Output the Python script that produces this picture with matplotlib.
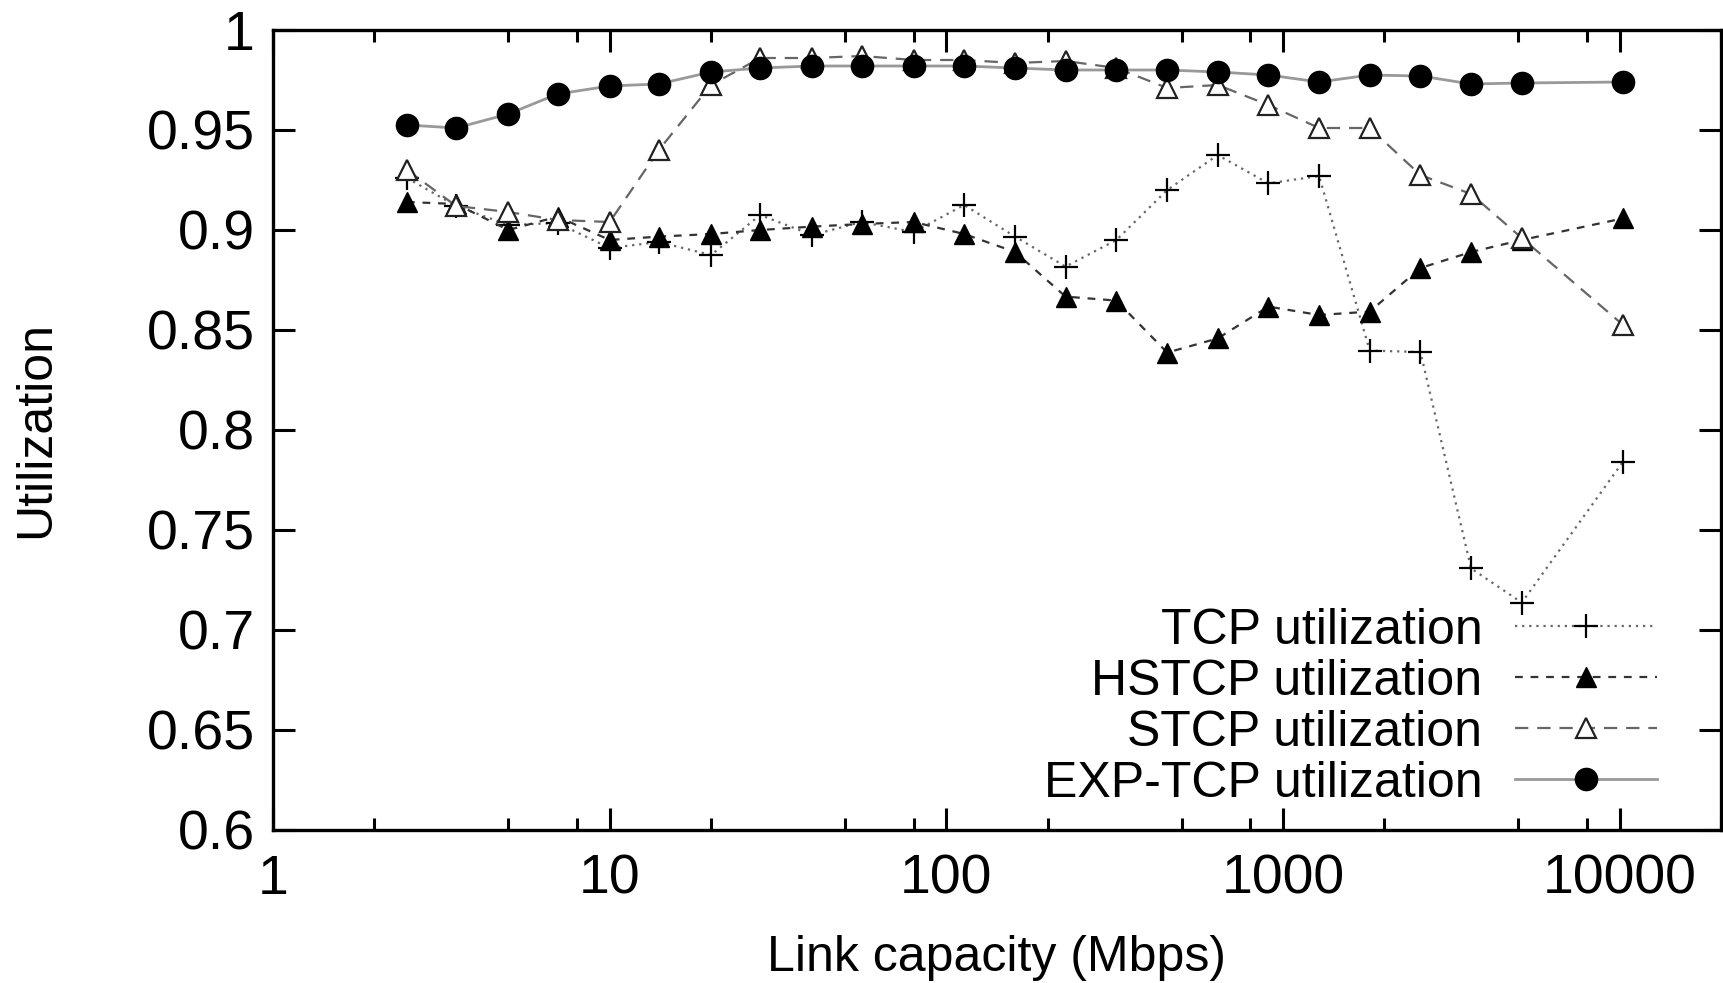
import matplotlib
matplotlib.use("Agg")
import matplotlib.pyplot as plt
from matplotlib.ticker import FixedLocator, FuncFormatter, NullFormatter

plt.rcParams["font.family"] = ["Liberation Sans", "DejaVu Sans"]

# Link capacity (Mbps)
capacity = [2.5, 3.5, 5, 7, 10, 14, 20, 28, 40, 56, 80, 113, 160, 226,
            320, 453, 640, 905, 1280, 1810, 2560, 3620, 5120, 10240]

tcp = [0.926, 0.912, 0.9025, 0.9035, 0.891, 0.894, 0.8875, 0.9075, 0.8975,
       0.904, 0.899, 0.9125, 0.8967, 0.8817, 0.895, 0.920, 0.9375, 0.9233,
       0.927, 0.8397, 0.839, 0.7308, 0.7137, 0.7842]
hstcp = [0.914, 0.913, 0.900, 0.9067, 0.895, 0.8967, 0.898, 0.900, 0.9017,
         0.903, 0.904, 0.898, 0.889, 0.8667, 0.8647, 0.8387, 0.8458, 0.8617,
         0.8575, 0.8592, 0.881, 0.889, 0.895, 0.9058]
stcp = [0.930, 0.912, 0.909, 0.905, 0.904, 0.940, 0.9725, 0.986, 0.986,
        0.987, 0.985, 0.985, 0.9835, 0.9845, 0.981, 0.971, 0.9725, 0.9625,
        0.951, 0.951, 0.9275, 0.918, 0.896, 0.8525]
exp_tcp = [0.9525, 0.951, 0.958, 0.968, 0.972, 0.973, 0.979, 0.981, 0.982,
           0.982, 0.982, 0.982, 0.981, 0.980, 0.980, 0.980, 0.979, 0.9775,
           0.974, 0.9775, 0.977, 0.973, 0.9735, 0.974]

y_ticks = [0.6, 0.65, 0.7, 0.75, 0.8, 0.85, 0.9, 0.95, 1.0]
x_ticks = [1, 10, 100, 1000, 10000]

fig = plt.figure(figsize=(17.24, 9.83), dpi=100)
ax = fig.add_axes([273 / 1724, 1 - 830 / 983, 1448 / 1724, 800 / 983])

ax.plot(capacity, tcp, color="#666666", linestyle=(0, (1, 2.2)), linewidth=1.6,
        marker="+", markersize=17, markeredgewidth=1.6, markeredgecolor="black",
        label="TCP utilization")
ax.plot(capacity, hstcp, color="#333333", linestyle=(0, (3.5, 3.5)), linewidth=1.6,
        marker="^", markersize=15, markerfacecolor="black", markeredgecolor="black",
        label="HSTCP utilization")
ax.plot(capacity, stcp, color="#666666", linestyle=(0, (6, 4)), linewidth=1.6,
        marker="^", markersize=15, markerfacecolor="white", markeredgecolor="#222222",
        markeredgewidth=1.6, label="STCP utilization")
ax.plot(capacity, exp_tcp, color="#999999", linestyle="-", linewidth=2,
        marker="o", markersize=16, markerfacecolor="black", markeredgecolor="black",
        label="EXP-TCP utilization")

ax.set_xscale("log")
ax.set_xlim(1, 20000)
ax.set_ylim(0.6, 1.0)

ax.xaxis.set_major_locator(FixedLocator(x_ticks))
ax.xaxis.set_major_formatter(FuncFormatter(lambda v, p: f"{v:g}"))
minor = [m * d for d in [1, 10, 100, 1000, 10000] for m in (2, 5, 8)]
ax.xaxis.set_minor_locator(FixedLocator(minor))
ax.xaxis.set_minor_formatter(NullFormatter())
ax.yaxis.set_major_locator(FixedLocator(y_ticks))
ax.yaxis.set_major_formatter(FuncFormatter(lambda v, p: f"{v:g}"))
ax.yaxis.set_minor_locator(FixedLocator([]))

for s in ax.spines.values():
    s.set_linewidth(2.4)
ax.tick_params(which="both", direction="in", top=True, right=True, width=2.2)
ax.tick_params(which="major", length=15.5, labelsize=40)
ax.tick_params(which="minor", length=8.5)
ax.tick_params(axis="y", pad=13)
ax.tick_params(axis="x", pad=17)

ax.set_xlabel("Link capacity (Mbps)", fontsize=36, labelpad=21)
ax.set_ylabel("Utilization", fontsize=36, labelpad=63)

ax.legend(loc="lower right", bbox_to_anchor=(0.956, 0.029), frameon=False,
          markerfirst=False, fontsize=36, handlelength=2.85, handletextpad=0.65,
          labelspacing=0.1, borderpad=0, borderaxespad=0)

fig.savefig("out.png", dpi=100)
